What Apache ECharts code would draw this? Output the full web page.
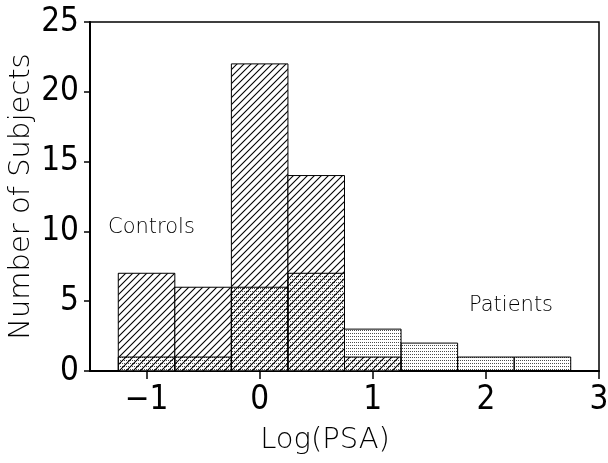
<!DOCTYPE html>
<html>
<head>
<meta charset="utf-8">
<script src="https://cdn.jsdelivr.net/npm/echarts@6/dist/echarts.min.js"></script>
<style>html,body{margin:0;padding:0;background:#fff}#c{width:608px;height:463px}</style>
</head>
<body>
<div id="c"></div>
<script>
// ---- data ----
const binCenters = [-1, -0.5, 0, 0.5, 1, 1.5, 2, 2.5];
const binWidth = 0.5;
const controls = [7, 6, 22, 14, 1, 0, 0, 0];
const patients = [1, 1, 6, 7, 3, 2, 1, 1];
const xTicks = [-1, 0, 1, 2, 3];
const yTicks = [0, 5, 10, 15, 20, 25];
const xName = 'Log(PSA)';
const yName = 'Number of Subjects';
const labelControls = 'Controls';
const labelPatients = 'Patients';

// ---- patterns ----
function hatchPattern() {
  const s = 7, c = document.createElement('canvas');
  c.width = s; c.height = s;
  const g = c.getContext('2d');
  g.fillStyle = '#fff'; g.fillRect(0, 0, s, s);
  g.strokeStyle = '#000'; g.lineWidth = 1.1;
  g.beginPath();
  g.moveTo(-1, s + 1); g.lineTo(s + 1, -1);
  g.moveTo(-1, 1); g.lineTo(1, -1);
  g.moveTo(s - 1, s + 1); g.lineTo(s + 1, s - 1);
  g.stroke();
  return c;
}
function dotPattern() {
  const c = document.createElement('canvas');
  c.width = 2; c.height = 3;
  const g = c.getContext('2d');
  g.clearRect(0, 0, 2, 3);
  g.fillStyle = 'rgba(0,0,0,0.7)';
  g.fillRect(0, 0, 1, 1);
  return c;
}
const hatch = { image: hatchPattern(), repeat: 'repeat' };
const dots = { image: dotPattern(), repeat: 'repeat' };

function makeSeries(name, values, fill) {
  return {
    type: 'custom',
    name: name,
    data: binCenters.map((x, i) => [x, values[i]]),
    renderItem: function (params, api) {
      const x = api.value(0), y = api.value(1);
      if (!y) return null;
      const p0 = api.coord([x - binWidth / 2, y]);
      const p1 = api.coord([x + binWidth / 2, 0]);
      return {
        type: 'rect',
        shape: { x: p0[0], y: p0[1], width: p1[0] - p0[0], height: p1[1] - p0[1] },
        style: { fill: fill, stroke: '#000', lineWidth: 1 }
      };
    }
  };
}

const chart = echarts.init(document.getElementById('c'), null, { renderer: 'canvas' });
const tickFont = { fontFamily: "'Liberation Sans Narrow', 'DejaVu Sans Condensed', sans-serif", fontWeight: 'normal', fontSize: 33, color: '#000' };
const nameFont = { fontFamily: 'DejaVu Sans', fontWeight: 200, fontSize: 29, color: '#000' };
chart.setOption({
  animation: false,
  backgroundColor: '#fff',
  grid: { left: 90, right: 9, top: 22, bottom: 92, containLabel: false, outerBoundsMode: 'none', show: true, borderColor: '#000', borderWidth: 1.5, backgroundColor: 'transparent' },
  xAxis: {
    type: 'value', min: -1.5, max: 3,
    name: xName, nameLocation: 'middle', nameGap: 55, nameMoveOverlap: false,
    nameTextStyle: Object.assign({ padding: [0, 39, 0, 0] }, nameFont),
    axisLine: { show: true, onZero: false, lineStyle: { color: '#000', width: 2 } },
    axisTick: { show: true, inside: false, length: 8, customValues: xTicks, lineStyle: { color: '#000', width: 1.5 } },
    axisLabel: Object.assign({ margin: 13, customValues: xTicks, formatter: v => (v < 0 ? '\u2212' + Math.abs(v) : String(v)) }, tickFont),
    splitLine: { show: false }
  },
  yAxis: {
    type: 'value', min: 0, max: 25, interval: 5,
    name: yName, nameLocation: 'middle', nameGap: 54, nameRotate: 90, nameMoveOverlap: false,
    nameTextStyle: nameFont,
    axisLine: { show: true, onZero: false, lineStyle: { color: '#000', width: 2 } },
    axisTick: { show: true, inside: false, length: 6, lineStyle: { color: '#000', width: 1.5 } },
    axisLabel: Object.assign({ margin: 11, customValues: yTicks }, tickFont),
    splitLine: { show: false }
  },
  series: [makeSeries('Controls', controls, hatch), makeSeries('Patients', patients, dots)],
  graphic: [
    { type: 'text', left: 108, top: 217, style: { text: labelControls, fontFamily: 'DejaVu Sans', fontWeight: 200, fontSize: 21, fill: '#000' } },
    { type: 'text', left: 469, top: 295, style: { text: labelPatients, fontFamily: 'DejaVu Sans', fontWeight: 200, fontSize: 21, fill: '#000' } }
  ]
});
</script>
</body>
</html>
